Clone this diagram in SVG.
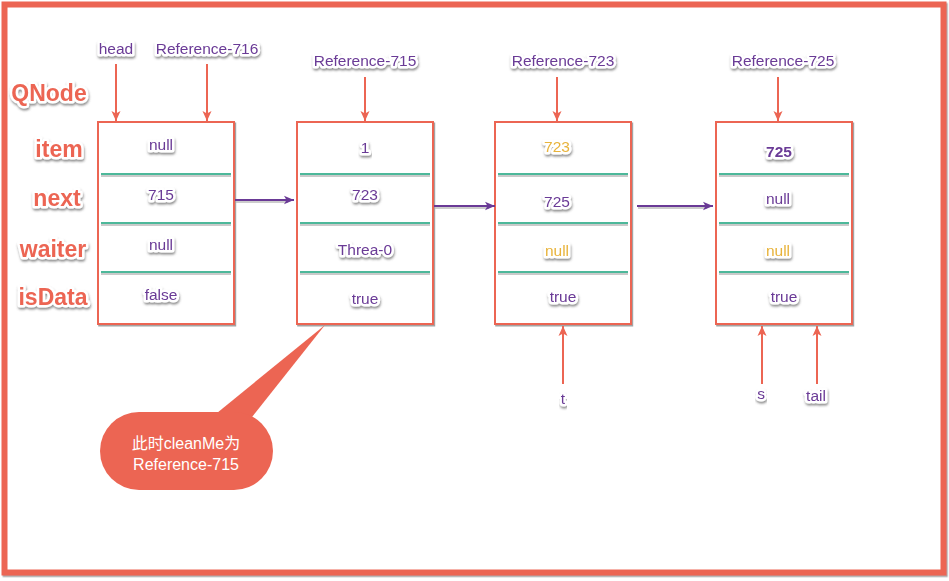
<svg xmlns="http://www.w3.org/2000/svg" width="949" height="581" viewBox="0 0 949 581">
<defs>
<filter id="sh" x="-20%" y="-30%" width="140%" height="170%">
<feDropShadow dx="0.6" dy="2" stdDeviation="1" flood-color="#444" flood-opacity="0.6"/>
</filter>
<filter id="bsh" x="-5%" y="-5%" width="110%" height="110%">
<feDropShadow dx="1.2" dy="1.5" stdDeviation="0.5" flood-color="#666" flood-opacity="0.6"/>
</filter>
<marker id="ra" markerUnits="userSpaceOnUse" markerWidth="11" markerHeight="10" refX="10" refY="5" orient="auto">
<path d="M0,0.5 L10,5 L0,9.5 L2.5,5 z" fill="#EC6553"/>
</marker>
<marker id="pa" markerUnits="userSpaceOnUse" markerWidth="11" markerHeight="10" refX="10" refY="5" orient="auto">
<path d="M0,0.8 L10,5 L0,9.2 L2.5,5 z" fill="#6A3A96"/>
</marker>
</defs>
<style>
.frame{fill:#fff;stroke:#EC6553;stroke-width:6}
.box{fill:#fff;stroke:#EC6553;stroke-width:2}
.div{stroke:#4DB89A;stroke-width:2}
.divs{stroke:#b8b8b8;stroke-width:1.5}
.v{font-family:"Liberation Sans",Arial,sans-serif;font-size:15.5px;fill:#6A3A96;text-anchor:middle;stroke:#fff;stroke-width:5;stroke-linejoin:round;paint-order:stroke}
.y{fill:#E8B33A}
.b{font-weight:bold}
.lab{font-family:"Liberation Sans",Arial,sans-serif;font-size:23px;font-weight:bold;fill:#EC6553;text-anchor:middle;stroke:#fff;stroke-width:5;stroke-linejoin:round;paint-order:stroke}
.rl{stroke:#EC6553;stroke-width:2;fill:none}
.pl{stroke:#6A3A96;stroke-width:2;fill:none}
.ct{font-family:"Liberation Sans","Noto Sans CJK SC",sans-serif;font-size:16px;fill:#fff;text-anchor:middle}
</style>
<rect class="frame" x="4.5" y="4.5" width="939" height="568" filter="url(#bsh)"/>

<g id="row-labels">
<text class="lab" x="49" y="101" filter="url(#sh)">QNode</text>
<text class="lab" x="59" y="157" filter="url(#sh)">item</text>
<text class="lab" x="57" y="206" filter="url(#sh)">next</text>
<text class="lab" x="53" y="257" filter="url(#sh)">waiter</text>
<text class="lab" x="53" y="305" filter="url(#sh)">isData</text>
</g>

<g id="node-716">
<rect class="box" x="98" y="122" width="136" height="202" filter="url(#bsh)"/>
<line class="divs" x1="101" y1="176" x2="231" y2="176"/><line class="div" x1="101" y1="174" x2="231" y2="174"/>
<line class="divs" x1="101" y1="225" x2="231" y2="225"/><line class="div" x1="101" y1="223" x2="231" y2="223"/>
<line class="divs" x1="101" y1="274" x2="231" y2="274"/><line class="div" x1="101" y1="272" x2="231" y2="272"/>
<text class="v" x="161" y="150" filter="url(#sh)">null</text>
<text class="v" x="161" y="200" filter="url(#sh)">715</text>
<text class="v" x="161" y="250" filter="url(#sh)">null</text>
<text class="v" x="161" y="300" filter="url(#sh)">false</text>
</g>

<g id="node-715">
<rect class="box" x="297" y="122" width="136" height="202" filter="url(#bsh)"/>
<line class="divs" x1="300" y1="176" x2="430" y2="176"/><line class="div" x1="300" y1="174" x2="430" y2="174"/>
<line class="divs" x1="300" y1="225" x2="430" y2="225"/><line class="div" x1="300" y1="223" x2="430" y2="223"/>
<line class="divs" x1="300" y1="274" x2="430" y2="274"/><line class="div" x1="300" y1="272" x2="430" y2="272"/>
<text class="v" x="365" y="153" filter="url(#sh)">1</text>
<text class="v" x="365" y="200" filter="url(#sh)">723</text>
<text class="v" x="365" y="255" filter="url(#sh)">Threa-0</text>
<text class="v" x="365" y="304" filter="url(#sh)">true</text>
</g>

<g id="node-723">
<rect class="box" x="495" y="122" width="136" height="202" filter="url(#bsh)"/>
<line class="divs" x1="498" y1="176" x2="628" y2="176"/><line class="div" x1="498" y1="174" x2="628" y2="174"/>
<line class="divs" x1="498" y1="225" x2="628" y2="225"/><line class="div" x1="498" y1="223" x2="628" y2="223"/>
<line class="divs" x1="498" y1="274" x2="628" y2="274"/><line class="div" x1="498" y1="272" x2="628" y2="272"/>
<text class="v y" x="557" y="152" filter="url(#sh)">723</text>
<text class="v" x="557" y="207" filter="url(#sh)">725</text>
<text class="v y" x="557" y="256" filter="url(#sh)">null</text>
<text class="v" x="563" y="302" filter="url(#sh)">true</text>
</g>

<g id="node-725">
<rect class="box" x="716" y="122" width="136" height="202" filter="url(#bsh)"/>
<line class="divs" x1="719" y1="176" x2="849" y2="176"/><line class="div" x1="719" y1="174" x2="849" y2="174"/>
<line class="divs" x1="719" y1="225" x2="849" y2="225"/><line class="div" x1="719" y1="223" x2="849" y2="223"/>
<line class="divs" x1="719" y1="274" x2="849" y2="274"/><line class="div" x1="719" y1="272" x2="849" y2="272"/>
<text class="v b" x="779" y="157" filter="url(#sh)">725</text>
<text class="v" x="778" y="204" filter="url(#sh)">null</text>
<text class="v y" x="778" y="256" filter="url(#sh)">null</text>
<text class="v" x="784" y="302" filter="url(#sh)">true</text>
</g>

<g id="pointer-labels">
<text class="v" x="116" y="54" filter="url(#sh)">head</text>
<text class="v" x="207" y="54" filter="url(#sh)">Reference-716</text>
<text class="v" x="365" y="66" filter="url(#sh)">Reference-715</text>
<text class="v" x="563" y="66" filter="url(#sh)">Reference-723</text>
<text class="v" x="783" y="66" filter="url(#sh)">Reference-725</text>
<text class="v" x="563" y="404" filter="url(#sh)">t</text>
<text class="v" x="761" y="399" filter="url(#sh)">s</text>
<text class="v" x="816" y="401" filter="url(#sh)">tail</text>
</g>

<g id="connectors">
<line class="rl" x1="116" y1="64" x2="116" y2="121" marker-end="url(#ra)"/>
<line class="rl" x1="207" y1="64" x2="207" y2="121" marker-end="url(#ra)"/>
<line class="rl" x1="365" y1="77" x2="365" y2="121" marker-end="url(#ra)"/>
<line class="rl" x1="557" y1="77" x2="557" y2="121" marker-end="url(#ra)"/>
<line class="rl" x1="778" y1="77" x2="778" y2="121" marker-end="url(#ra)"/>
<line class="rl" x1="563" y1="384" x2="563" y2="326" marker-end="url(#ra)"/>
<line class="rl" x1="762" y1="384" x2="762" y2="326" marker-end="url(#ra)"/>
<line class="rl" x1="817" y1="384" x2="817" y2="326" marker-end="url(#ra)"/>
<line stroke="#bbb" stroke-width="1.5" x1="236" y1="202" x2="288" y2="202"/>
<line class="pl" x1="235" y1="200" x2="294" y2="200" marker-end="url(#pa)"/>
<line stroke="#bbb" stroke-width="1.5" x1="435" y1="208" x2="489" y2="208"/>
<line class="pl" x1="434" y1="206" x2="495" y2="206" marker-end="url(#pa)"/>
<line stroke="#bbb" stroke-width="1.5" x1="638" y1="208" x2="707" y2="208"/>
<line class="pl" x1="637" y1="206" x2="713" y2="206" marker-end="url(#pa)"/>
</g>

<g id="callout">
<path d="M217,413 L325,325 L252,417 Z" fill="#EC6553"/>
<rect x="100" y="412" width="173" height="78" rx="39" ry="39" fill="#EC6553"/>
<text class="ct" x="186" y="449">此时cleanMe为</text>
<text class="ct" x="186" y="470">Reference-715</text>
</g>
</svg>
